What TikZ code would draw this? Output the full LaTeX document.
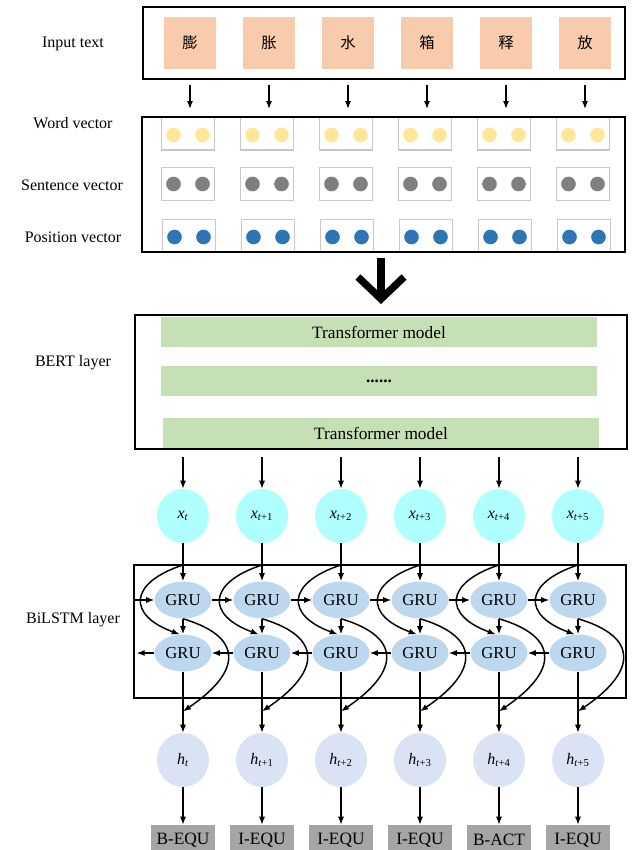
\documentclass[tikz,border=0pt]{standalone}
\usepackage{fontspec}
\setmainfont{Liberation Serif}
\newfontfamily\cjk{Noto Sans CJK SC}
\usetikzlibrary{arrows.meta,shapes.geometric,calc}

\definecolor{charfill}{HTML}{F8CBAD}
\definecolor{boxgray}{HTML}{C8C8C8}
\definecolor{dotyellow}{HTML}{FFE699}
\definecolor{dotgray}{HTML}{7F7F7F}
\definecolor{dotblue}{HTML}{2E75B6}
\definecolor{bargreen}{HTML}{C5E0B4}
\definecolor{xcyan}{HTML}{B0FFFF}
\definecolor{grublue}{HTML}{BDD7EE}
\definecolor{hlav}{HTML}{DAE3F3}
\definecolor{taggray}{HTML}{A5A5A5}

\newcommand\vlab[2]{\textit{#1}\textsubscript{\textit{t}#2}}

\tikzset{
  framebox/.style={draw=black, line width=1.9pt, inner sep=0pt, outer sep=0pt},
  charbox/.style={fill=charfill, minimum width=39pt, minimum height=39pt, inner sep=0pt,
    font=\cjk\fontsize{11.5}{13}\selectfont},
  slotbox/.style={draw=boxgray, line width=1.1pt, minimum width=39.75pt, minimum height=24.75pt, inner sep=0pt},
  vdot/.style={circle, minimum size=11pt, inner sep=0pt},
  bar/.style={fill=bargreen, minimum width=327pt, minimum height=22.5pt, inner sep=0pt,
    font=\fontsize{13}{15}\selectfont},
  xnode/.style={ellipse, fill=xcyan, minimum width=39pt, minimum height=40.5pt, inner sep=0pt},
  gru/.style={ellipse, fill=grublue, minimum width=42.75pt, minimum height=27.75pt, inner sep=0pt,
    font=\fontsize{12.5}{14}\selectfont},
  hnode/.style={ellipse, fill=hlav, minimum width=39pt, minimum height=40.5pt, inner sep=0pt},
  tagbox/.style={fill=taggray, minimum width=48.4pt, minimum height=22.5pt, inner sep=0pt,
    font=\fontsize{13}{15}\selectfont},
  arr/.style={-{Latex[length=6pt,width=4.5pt]}, line width=0.9pt},
  curvearr/.style={-{Latex[length=6pt,width=4.5pt]}, line width=1.1pt},
  sidelabel/.style={anchor=center, font=\fontsize{12}{14}\selectfont},
}

\begin{document}
\begin{tikzpicture}[x=0.75pt, y=-0.75pt, font=\fontsize{12}{14}\selectfont]
\useasboundingbox (0,0) rectangle (639,850);

% ---- input characters ----
\foreach \i/\cx/\ch in {1/190/膨,2/269/胀,3/348/水,4/427/箱,5/506/释,6/585/放}
  \node[charbox] (sq\i) at (\cx,43) {\ch};
\node[framebox, minimum width=361.5pt, minimum height=54pt] (inbox) at (384,43) {};

% ---- embedding slots ----
\foreach \i/\cx in {1/188,2/267,3/346,4/425,5/504,6/583} {
  \node[slotbox] (w\i) at (\cx,133.5) {};
  \node[vdot, fill=dotyellow] (wa\i) at (\cx-14.5,135) {};
  \node[vdot, fill=dotyellow] (wb\i) at (\cx+14.5,135) {};
  \node[slotbox] (s\i) at (\cx,184) {};
  \node[vdot, fill=dotgray] (sa\i) at (\cx-14.5,184) {};
  \node[vdot, fill=dotgray] (sb\i) at (\cx+14.5,184) {};
  \node[slotbox] (p\i) at (\cx+1,236) {};
  \node[vdot, fill=dotblue] (pa\i) at (\cx-13.5,237) {};
  \node[vdot, fill=dotblue] (pb\i) at (\cx+15.5,237) {};
}
\node[framebox, minimum width=362.25pt, minimum height=101.25pt] (vecbox) at (383.5,184.5) {};

\foreach \i in {1,...,6}
  \draw[arr, shorten <=4.5pt, shorten >=6pt] (inbox.south -| sq\i) -- (vecbox.north -| sq\i);

% ---- side labels ----
\node[sidelabel] (lin) at (73,44) {Input text};
\node[sidelabel] (lword) at (73,123) {Word vector};
\node[sidelabel] (lsent) at (72,185) {Sentence vector};
\node[sidelabel] (lpos) at (73,237) {Position vector};
\node[sidelabel] (lbert) at (73,363) {BERT layer};
\node[sidelabel] (lbil) at (73,620) {BiLSTM layer};

% ---- big arrow into BERT ----
\coordinate (bigtop) at (381,258);
\coordinate (bigtip) at (381,299);
\draw[line width=5.5pt] (bigtop) -- ($(bigtip)+(0,-4)$);
\draw[line width=5.5pt, miter limit=10] ($(bigtip)+(-23,-22)$) -- (bigtip) -- ($(bigtip)+(23,-22)$);

% ---- BERT layer ----
\node[bar] (tf1) at (379,332) {Transformer model};
\node[bar] (tfm) at (379,381) {\textbf{......}};
\node[bar] (tf2) at (381,433) {Transformer model};
\node[framebox, minimum width=369pt, minimum height=100.5pt] (bert) at (381,382) {};

% ---- BERT outputs ----
\node[xnode] (x1) at (183,516) {\vlab{x}{}};
\node[xnode] (x2) at (262,516) {\vlab{x}{+1}};
\node[xnode] (x3) at (341,516) {\vlab{x}{+2}};
\node[xnode] (x4) at (420,516) {\vlab{x}{+3}};
\node[xnode] (x5) at (499,516) {\vlab{x}{+4}};
\node[xnode] (x6) at (578,516) {\vlab{x}{+5}};
\foreach \i in {1,...,6}
  \draw[arr, shorten <=6pt] (bert.south -| x\i) -- (x\i.north);

% ---- BiLSTM layer ----
\node[framebox, minimum width=369pt, minimum height=99.75pt] (bil) at (380,631.5) {};
\foreach \i/\cx in {1/183,2/262,3/341,4/420,5/499,6/578} {
  \node[gru] (gf\i) at (\cx,600) {GRU};
  \node[gru] (gb\i) at (\cx,653) {GRU};
}

% ---- hidden states and tags ----
\node[hnode] (h1) at (183,760) {\vlab{h}{}};
\node[hnode] (h2) at (262,760) {\vlab{h}{+1}};
\node[hnode] (h3) at (341,760) {\vlab{h}{+2}};
\node[hnode] (h4) at (420,760) {\vlab{h}{+3}};
\node[hnode] (h5) at (499,760) {\vlab{h}{+4}};
\node[hnode] (h6) at (578,760) {\vlab{h}{+5}};
\foreach \i/\cx/\t in {1/183/B-EQU,2/262/I-EQU,3/341/I-EQU,4/420/I-EQU,5/499/B-ACT,6/578/I-EQU}
  \node[tagbox] (tag\i) at (\cx,840) {\t};

\foreach \i in {1,...,6} {
  \draw[arr] (x\i.south) -- (gf\i.north);
  \draw[arr] (gf\i.south) -- (gb\i.north);
  \draw[arr] (gb\i.south) -- (h\i.north);
  \draw[arr] (h\i.south) -- (tag\i.north);
  \coordinate (cin\i) at (bil.north -| x\i);
  \coordinate (cout\i) at ($(gb\i.south)!0.65!(h\i.north)$);
  \draw[curvearr] (cin\i) .. controls +(-55,18) and +(-52,-19) .. (gb\i.100);
  \draw[curvearr] (gf\i.south) .. controls +(61,18) and +(59,-40) .. (cout\i);
}

% forward and backward chains
\draw[arr] (bil.west |- gf1) -- (gf1.west);
\foreach \i/\j in {1/2,2/3,3/4,4/5,5/6} {
  \draw[arr] (gf\i.east) -- (gf\j.west);
  \draw[arr] (gb\j.west) -- (gb\i.east);
}
\draw[arr, shorten >=2pt] (gb1.west) -- (bil.west |- gb1);

\end{tikzpicture}
\end{document}
